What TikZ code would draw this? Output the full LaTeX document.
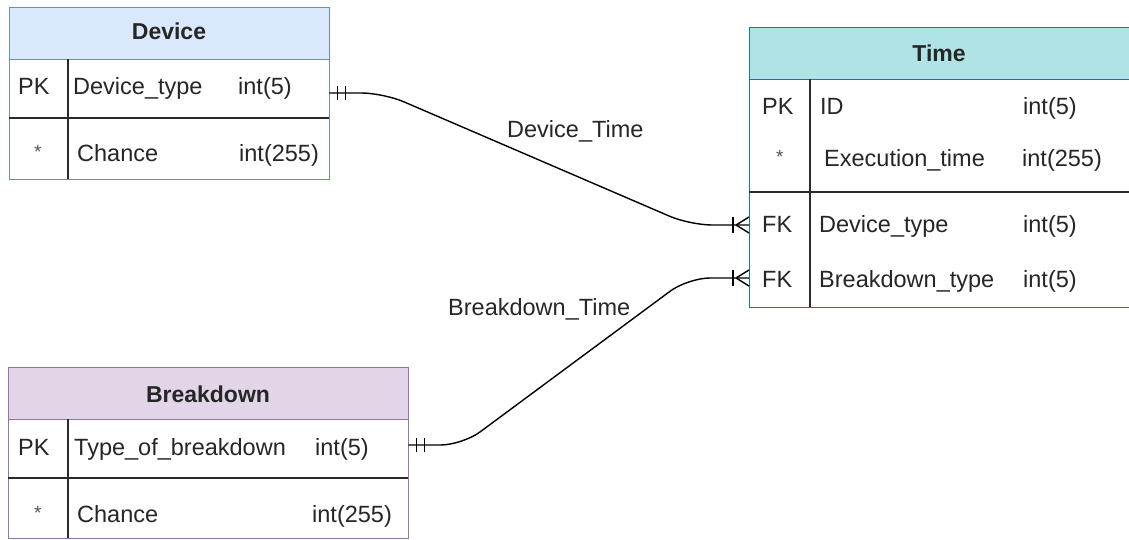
\documentclass[tikz,border=0pt]{standalone}
\usepackage{fontspec}
\setmainfont{Liberation Sans}
\definecolor{devfill}{HTML}{DAE8FC}
\definecolor{devline}{HTML}{6C8EBF}
\definecolor{timefill}{HTML}{B0E3E6}
\definecolor{timeline}{HTML}{0E8088}
\definecolor{brkfill}{HTML}{E1D5E7}
\definecolor{brkline}{HTML}{9673A6}
\definecolor{ink}{HTML}{262626}
\definecolor{rule}{HTML}{2A2A2A}
\definecolor{starink}{HTML}{555555}
\begin{document}
\begin{tikzpicture}[x=1pt,y=-1pt,
  tablebox/.style={draw, fill=white, line width=1.3pt, inner sep=0, anchor=north west},
  headbox/.style={draw, line width=1.3pt, inner sep=0, anchor=north west, minimum height=52pt},
  divider/.style={draw=rule, line width=1.5pt},
  cell/.style={text=ink, inner sep=0, anchor=base west, font=\fontsize{23.5}{28}\selectfont},
  star/.style={text=starink, inner sep=0, anchor=base west, font=\fontsize{19}{22}\selectfont},
  headtext/.style={text=ink, inner sep=0, anchor=base, font=\bfseries\fontsize{23}{28}\selectfont},
  rowarea/.style={inner sep=0, minimum height=40pt, anchor=west},
  rel/.style={draw=black, line width=1.4pt},
  curve/.style={rel, rounded corners=22pt}]
\useasboundingbox (0,0) rectangle (1129,540);
\clip (0,0) rectangle (1129,540);

% ---- Device ----
\node[tablebox, draw=devline, minimum width=320pt, minimum height=172pt] (dev) at (9,7) {};
\node[headbox, draw=devline, fill=devfill, minimum width=320pt] (devhead) at (9,7) {};
\draw[divider] (9,118) -- (329,118);
\draw[divider] (68,59) -- (68,179);
\node[headtext] at (169,40) {Device};
\node[cell] at (18,95) {PK};
\node[cell] at (73,95) {Device\_type};
\node[cell] at (238,95) {int(5)};
\node[star] at (34,159) {*};
\node[cell] at (77,162) {Chance};
\node[cell] at (239,162) {int(255)};
\node[rowarea, minimum width=320pt] (devkey) at (9,93) {};

% ---- Time ----
\node[tablebox, draw=timeline, minimum width=400pt, minimum height=280pt] (time) at (749,27) {};
\node[headbox, draw=timeline, fill=timefill, minimum width=400pt] (timehead) at (749,27) {};
\draw[divider] (749,192) -- (1140,192);
\draw[divider] (810,79) -- (810,307);
\node[headtext] at (939,62) {Time};
\node[cell] at (762,115) {PK};
\node[cell] at (820,115) {ID};
\node[cell] at (1023,115) {int(5)};
\node[star] at (776,164) {*};
\node[cell] at (824,167) {Execution\_time};
\node[cell] at (1022,167) {int(255)};
\node[cell] at (762,233) {FK};
\node[cell] at (819,233) {Device\_type};
\node[cell] at (1023,233) {int(5)};
\node[cell] at (762,287) {FK};
\node[cell] at (819,287) {Breakdown\_type};
\node[cell] at (1023,287) {int(5)};
\node[rowarea, minimum width=391pt] (timedev) at (749,225) {};
\node[rowarea, minimum width=391pt] (timebrk) at (749,278) {};

% ---- Breakdown ----
\node[tablebox, draw=brkline, minimum width=400pt, minimum height=171pt] (brk) at (8,367) {};
\node[headbox, draw=brkline, fill=brkfill, minimum width=400pt] (brkhead) at (8,367) {};
\draw[divider] (8,478) -- (408,478);
\draw[divider] (68,419) -- (68,538);
\node[headtext] at (208,402) {Breakdown};
\node[cell] at (18,455) {PK};
\node[cell] at (74,455) {Type\_of\_breakdown};
\node[cell] at (315,455) {int(5)};
\node[star] at (34,519) {*};
\node[cell] at (77,522) {Chance};
\node[cell] at (312,522) {int(255)};
\node[rowarea, minimum width=400pt] (brkkey) at (8,445) {};

% ---- Relationship Device_Time ----
\draw[curve] (devkey.east) -- ++(54,0) -- ([xshift=-59pt]timedev.west) -- (timedev.west);
\draw[rel] ([xshift=8pt]devkey.east) ++(0,-7) -- ++(0,14);
\draw[rel] ([xshift=16pt]devkey.east) ++(0,-7) -- ++(0,14);
\draw[rel] ([xshift=-16pt]timedev.west) ++(0,-8) -- ++(0,16);
\draw[rel] ([xshift=-13pt]timedev.west) -- ([yshift=8pt]timedev.west);
\draw[rel] ([xshift=-13pt]timedev.west) -- ([yshift=-8pt]timedev.west);
\node[cell] (devtimelbl) at (507,138) {Device\_Time};

% ---- Relationship Breakdown_Time ----
\draw[curve] (brkkey.east) -- ++(54,0) -- ([xshift=-61pt]timebrk.west) -- (timebrk.west);
\draw[rel] ([xshift=8pt]brkkey.east) ++(0,-7) -- ++(0,14);
\draw[rel] ([xshift=16pt]brkkey.east) ++(0,-7) -- ++(0,14);
\draw[rel] ([xshift=-16pt]timebrk.west) ++(0,-8) -- ++(0,16);
\draw[rel] ([xshift=-13pt]timebrk.west) -- ([yshift=8pt]timebrk.west);
\draw[rel] ([xshift=-13pt]timebrk.west) -- ([yshift=-8pt]timebrk.west);
\node[cell] (brktimelbl) at (448,315) {Breakdown\_Time};
\end{tikzpicture}
\end{document}
